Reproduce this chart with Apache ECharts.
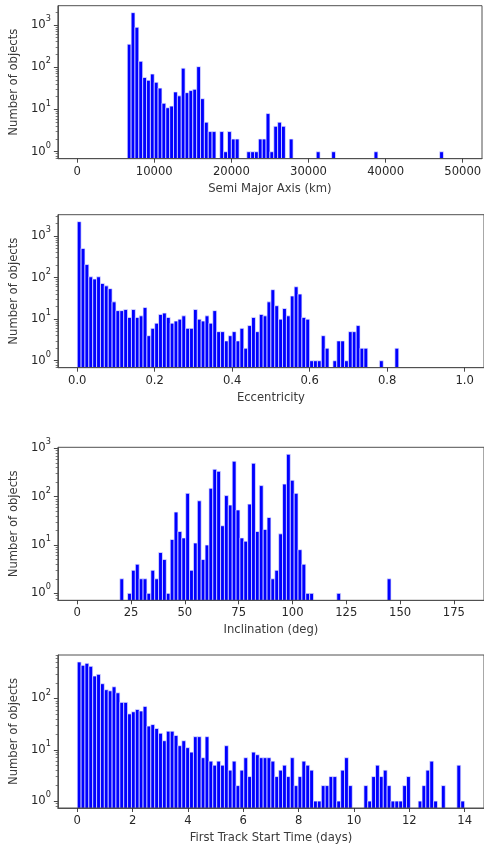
<!DOCTYPE html>
<html>
<head>
<meta charset="utf-8">
<script src="https://cdn.jsdelivr.net/npm/echarts@6/dist/echarts.min.js"></script>
<style>
html,body{margin:0;padding:0;background:#ffffff;}
#c{width:484px;height:848px;}
</style>
</head>
<body>
<div id="c"></div>
<script>
// ---------- Panel 1: Semi Major Axis (km), 100 bins of 500 km from 0 ----------
const smaLabel = 'Semi Major Axis (km)';
const smaBinStart = 0;
const smaBinWidth = 500;
const smaCounts = [
  0,0,0,0,0,0,0,0,0,0,
  0,0,0,350,1950,880,138,57,49,69,
  44,32,14,11,12,26,21,95,25,28,
  30,103,18,5,3,3,0,3,1,3,
  2,2,0,0,1,1,1,2,2,8,
  1,4,5,4,0,2,0,0,0,0,
  0,0,1,0,0,0,1,0,0,0,
  0,0,0,0,0,0,0,1,0,0,
  0,0,0,0,0,0,0,0,0,0,
  0,0,0,0,1,0,0,0,0,0
];
const smaTicks = [0, 10000, 20000, 30000, 40000, 50000];

// ---------- Panel 2: Eccentricity, 100 bins of 0.01 from 0 ----------
const eccLabel = 'Eccentricity';
const eccBinStart = 0;
const eccBinWidth = 0.01;
const eccCounts = [
  2200,500,205,104,92,104,72,63,54,26,
  16,16,17,11,17,11,12,19,4,6,
  8,13,14,11,8,9,10,12,6,6,
  17,10,9,12,8,16,5,5,3,4,
  5,3,6,2,7,11,5,13,12,26,
  51,21,10,18,12,36,60,40,11,10,
  1,1,1,4,2,0,1,3,3,1,
  5,5,7,2,2,0,0,0,1,0,
  0,0,2,0,0,0,0,0,0,0,
  0,0,0,0,0,0,0,0,0,0
];
const eccTicks = [0, 0.2, 0.4, 0.6, 0.8, 1.0];

// ---------- Panel 3: Inclination (deg), 100 bins of 1.8 deg from 0 ----------
const incLabel = 'Inclination (deg)';
const incBinStart = 0;
const incBinWidth = 1.8;
const incCounts = [
  0,0,0,0,0,0,0,0,0,0,
  0,2,0,1,3,4,2,2,1,3,
  2,7,5,1,13,48,19,14,117,3,
  11,82,5,10,149,368,334,25,105,67,
  540,53,14,12,70,490,19,169,21,37,
  2,3,17,182,752,218,117,8,4,1,
  1,0,0,0,0,0,0,1,0,0,
  0,0,0,0,0,0,0,0,0,0,
  2,0,0,0,0,0,0,0,0,0,
  0,0,0,0,0,0,0,0,0,0
];
const incTicks = [0, 25, 50, 75, 100, 125, 150, 175];

// ---------- Panel 4: First Track Start Time (days), 100 bins of 0.14 day ----------
const timeLabel = 'First Track Start Time (days)';
const timeBinStart = 0;
const timeBinWidth = 0.14;
const timeCounts = [
  515,443,484,423,274,295,194,148,141,169,
  129,84,84,50,55,61,57,70,29,31,
  26,21,15,23,23,19,12,15,11,9,
  18,18,7,18,6,5,6,5,12,4,
  6,2,4,7,3,9,8,7,7,7,
  6,3,4,5,3,7,2,3,6,5,
  4,1,1,2,2,3,3,1,4,7,
  2,0,0,0,2,1,3,5,3,4,
  2,1,1,1,2,3,0,0,1,2,
  4,6,1,0,2,0,0,0,5,1
];
const timeTicks = [0, 2, 4, 6, 8, 10, 12, 14];

const yAxisLabel = 'Number of objects';

// ---------- layout / style ----------
const FONT = 'DejaVu Sans';
const TICK_COLOR = '#262626';
const NAME_COLOR = '#3a3a3a';
const LINE_COLOR = '#505050';
const BAR_COLOR = '#0000ff';

const panels = [
  {counts: smaCounts, start: smaBinStart, width: smaBinWidth, ticks: smaTicks, label: smaLabel, dec: 0, top: 5.7},
  {counts: eccCounts, start: eccBinStart, width: eccBinWidth, ticks: eccTicks, label: eccLabel, dec: 1, top: 214.7},
  {counts: incCounts, start: incBinStart, width: incBinWidth, ticks: incTicks, label: incLabel, dec: 0, top: 447.3},
  {counts: timeCounts, start: timeBinStart, width: timeBinWidth, ticks: timeTicks, label: timeLabel, dec: 0, top: 655.0}
];

const option = {
  animation: false,
  backgroundColor: '#ffffff',
  grid: [], xAxis: [], yAxis: [], series: []
};

panels.forEach((p, i) => {
  const n = p.counts.length;
  const span = n * p.width;
  const xmin = p.start - 0.05 * span;
  const xmax = p.start + span + 0.05 * span;
  const hi = Math.log10(Math.max.apply(null, p.counts));
  const ymin = -0.05 * hi;
  const ymax = hi + 0.05 * hi;

  const majors = [];
  for (let k = Math.ceil(ymin); k <= Math.floor(ymax); k++) majors.push(k);
  const minors = [];
  for (let k = Math.floor(ymin) - 1; k <= Math.ceil(ymax); k++) {
    for (let m = 2; m <= 9; m++) {
      const v = k + Math.log10(m);
      if (v > ymin && v < ymax) minors.push(v);
    }
  }

  option.grid.push({
    left: 54, width: 430, top: p.top, height: 153,
    show: true, borderColor: LINE_COLOR, borderWidth: 1, backgroundColor: 'transparent', z: 3
  });

  option.xAxis.push({
    type: 'value', gridIndex: i, min: xmin, max: xmax, z: 3,
    splitLine: {show: false},
    axisLine: {show: true, onZero: false, lineStyle: {color: LINE_COLOR, width: 1}},
    axisTick: {show: true, length: 4, customValues: p.ticks, lineStyle: {color: '#333', width: 0.9}},
    axisLabel: {
      show: true, customValues: p.ticks, margin: 7,
      fontFamily: FONT, fontSize: 11.6, color: TICK_COLOR,
      formatter: v => p.dec ? Number(v).toFixed(p.dec) : String(Math.round(v))
    },
    name: p.label, nameLocation: 'middle', nameGap: 24,
    nameTextStyle: {fontFamily: FONT, fontSize: 11.6, color: NAME_COLOR}
  });

  // major log-decade axis (values are log10 of counts)
  option.yAxis.push({
    type: 'value', gridIndex: i, min: ymin, max: ymax, z: 3,
    splitLine: {show: false},
    axisLine: {show: true, onZero: false, lineStyle: {color: LINE_COLOR, width: 1}},
    axisTick: {show: true, length: 4, customValues: majors, lineStyle: {color: '#333', width: 0.9}},
    axisLabel: {
      show: true, customValues: majors, margin: 7,
      formatter: v => '{a|10}{b|' + Math.round(v) + '}',
      rich: {
        a: {fontFamily: FONT, fontSize: 11.6, color: TICK_COLOR, lineHeight: 20},
        b: {fontFamily: FONT, fontSize: 8.2, color: TICK_COLOR, lineHeight: 10, verticalAlign: 'top'}
      }
    },
    name: yAxisLabel, nameLocation: 'middle', nameGap: 33,
    nameTextStyle: {fontFamily: FONT, fontSize: 11.6, color: NAME_COLOR}
  });
  // minor ticks axis (2..9 x 10^k)
  option.yAxis.push({
    type: 'value', gridIndex: i, min: ymin, max: ymax, z: 3, position: 'left', offset: 0,
    splitLine: {show: false},
    axisLine: {show: false, onZero: false},
    axisLabel: {show: false},
    axisTick: {show: true, length: 2.2, customValues: minors, lineStyle: {color: '#444', width: 0.7}}
  });

  const data = [];
  p.counts.forEach((c, j) => {
    if (c > 0) data.push([p.start + j * p.width, p.start + (j + 1) * p.width, c]);
  });

  option.series.push({
    type: 'custom', xAxisIndex: i, yAxisIndex: 2 * i, z: 1, clip: true,
    encode: {x: [0, 1], y: 2},
    data: data,
    renderItem: (params, api) => {
      const x0 = api.value(0), x1 = api.value(1), c = api.value(2);
      const base = api.coord([x0, ymin]);
      const top = api.coord([x1, Math.log10(c)]);
      return {
        type: 'rect',
        shape: {x: base[0], y: top[1], width: top[0] - base[0], height: base[1] - top[1] + 3},
        style: {fill: BAR_COLOR, stroke: 'rgba(235,235,255,0.9)', lineWidth: 0.8}
      };
    }
  });
});

const chart = echarts.init(document.getElementById('c'), null, {renderer: 'canvas', width: 484, height: 848});
chart.setOption(option);
</script>
</body>
</html>
